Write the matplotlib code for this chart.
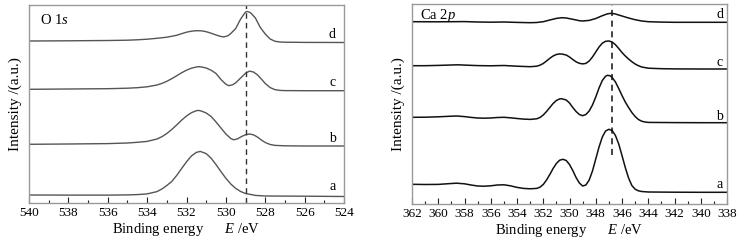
import matplotlib
matplotlib.use("Agg")
import matplotlib.pyplot as plt
from matplotlib.ticker import MultipleLocator

plt.rcParams['font.family'] = ['Liberation Serif', 'DejaVu Serif']
plt.rcParams['mathtext.fontset'] = 'custom'
plt.rcParams['mathtext.rm'] = 'Liberation Serif'
plt.rcParams['mathtext.it'] = 'Liberation Serif:italic'

# ---- O 1s spectra (binding energy eV, intensity a.u. incl. vertical offset)
o1s_a_x = [540, 538, 536, 535, 534.5, 534, 533.5, 533.25, 533, 532.75, 532.5, 532.25, 532, 531.75,
           531.5, 531.3, 531, 530.75, 530.5, 530.25, 530, 529.75, 529.5, 529.25, 529, 528.5, 528, 526, 524]
o1s_a_y = [8.0, 7.9, 7.9, 8.1, 8.4, 9.1, 11.4, 14.0, 17.5, 21.5, 27.5, 34.4, 41.2, 47.0,
           50.6, 51.6, 49.4, 44.8, 38.4, 31.4, 24.7, 19.0, 14.6, 11.5, 9.5, 7.6, 7.0, 6.8, 6.5]

o1s_b_x = [540, 538, 536, 535, 534.5, 534, 533.5, 533.25, 533, 532.75, 532.5, 532.25, 532, 531.75, 531.5,
           531.4, 531.25, 531, 530.75, 530.5, 530.25, 530, 529.75, 529.6, 529.4, 529.2, 529, 528.8, 528.6,
           528.4, 528.2, 528, 527.75, 527.5, 527, 526, 524]
o1s_b_y = [58.7, 59.0, 59.4, 60.0, 60.7, 61.6, 64.0, 66.3, 69.5, 73.5, 78.0, 82.8, 87.0, 90.3, 92.3,
           92.6, 92.0, 90.0, 86.5, 81.0, 75.0, 69.0, 64.5, 63.2, 64.2, 66.5, 68.3, 69.0, 68.2,
           66.0, 63.0, 60.5, 58.5, 57.6, 57.2, 57.0, 57.0]

o1s_c_x = [540, 538, 536, 535, 534.5, 534, 533.5, 533.25, 533, 532.75, 532.5, 532.25, 532, 531.75, 531.5,
           531.4, 531.25, 531, 530.75, 530.5, 530.25, 530, 529.85, 529.65, 529.5, 529.25, 529, 528.8, 528.6,
           528.4, 528.2, 528, 527.75, 527.5, 527.25, 527, 526, 524]
o1s_c_y = [113.7, 114.0, 114.3, 114.8, 115.3, 116.2, 118.0, 119.6, 121.7, 124.3, 127.2, 130.2, 132.8, 134.8, 136.0,
           136.3, 136.1, 135.0, 132.8, 129.5, 123.5, 118.8, 117.3, 118.3, 120.2, 125.0, 129.8, 131.9, 131.0,
           128.2, 124.0, 119.5, 115.4, 113.3, 112.6, 112.4, 112.3, 112.3]

o1s_d_x = [540, 538, 536, 535, 534.5, 534, 533.5, 533, 532.5, 532.25, 532, 531.75, 531.5, 531.25, 531,
           530.75, 530.5, 530.25, 530.1, 529.9, 529.75, 529.5, 529.25, 529.0, 528.9, 528.75, 528.5, 528.25,
           528, 527.75, 527.5, 527.25, 527, 526, 524]
o1s_d_y = [162.0, 162.2, 162.5, 162.8, 163.2, 163.8, 164.7, 165.8, 167.7, 169.3, 170.8, 171.8, 172.3, 172.2, 171.3,
           169.8, 168.0, 166.5, 166.1, 167.2, 169.5, 174.5, 184.0, 191.0, 191.5, 190.3, 185.0, 175.5,
           169.0, 164.0, 161.7, 161.0, 160.8, 160.6, 160.5]

# ---- Ca 2p spectra
ca_a_x = [362, 361, 360, 359, 358.6, 358, 357.5, 357, 356.5, 356, 355.5, 355, 354.5, 354, 353.5, 353, 352.5,
          352.25, 352, 351.75, 351.5, 351.25, 351, 350.75, 350.5, 350.25, 350, 349.75, 349.5, 349.25, 349,
          348.75, 348.5, 348.25, 348, 347.75, 347.5, 347.25, 347, 346.75, 346.5, 346.25, 346, 345.75, 345.5,
          345.25, 345, 344.75, 344.5, 344, 342, 340, 338]
ca_a_y = [19.7, 19.5, 19.6, 20.5, 20.8, 20.2, 19.0, 18.0, 17.8, 18.2, 19.0, 19.2, 18.2, 16.6, 15.6, 15.2, 15.6,
          16.8, 19.5, 24.0, 29.5, 35.5, 40.5, 43.8, 44.7, 43.5, 39.5, 33.5, 26.5, 21.0, 18.0,
          19.0, 24.0, 33.0, 45.0, 57.0, 67.0, 73.0, 74.7, 73.5, 68.5, 60.0, 48.5, 36.5, 26.0,
          18.5, 14.8, 13.2, 12.5, 12.0, 11.8, 11.7, 11.7]

ca_b_x = [362, 361, 360, 359, 358.6, 358, 357.5, 357, 356.5, 356, 355.5, 355, 354.5, 354, 353.5, 353, 352.5,
          352.25, 352, 351.75, 351.5, 351.25, 351, 350.75, 350.6, 350.25, 350, 349.75, 349.5, 349.25, 349,
          348.75, 348.5, 348.25, 348, 347.75, 347.5, 347.25, 347.1, 346.9, 346.75, 346.5, 346.25, 346,
          345.75, 345.5, 345.25, 345, 344.75, 344.5, 344.25, 344, 342, 340, 338]
ca_b_y = [86.7, 86.8, 87.2, 87.8, 88.0, 87.4, 86.6, 86.0, 85.8, 86.0, 86.5, 86.7, 86.2, 85.5, 84.9, 84.6, 85.2,
          86.5, 89.0, 92.5, 96.5, 100.5, 103.5, 105.1, 105.3, 104.0, 101.0, 96.5, 92.5, 89.5, 88.3,
          89.5, 93.0, 99.0, 107.0, 116.0, 123.5, 127.8, 128.7, 128.2, 126.5, 122.0, 115.5, 108.5,
          102.0, 96.5, 91.5, 87.5, 84.5, 82.8, 82.0, 81.6, 81.4, 81.3, 81.3]

ca_c_x = [362, 361, 360, 359, 358.5, 358, 357, 356, 355, 354, 353, 352.5, 352.25, 352, 351.75, 351.5, 351.25,
          351, 350.75, 350.6, 350.25, 350, 349.75, 349.5, 349.25, 349, 348.75, 348.5, 348.25, 348, 347.75,
          347.5, 347.25, 347, 346.75, 346.5, 346.25, 346, 345.75, 345.5, 345.25, 345, 344.75, 344.5, 344,
          343, 342, 340, 338]
ca_c_y = [138.3, 138.3, 138.6, 139.0, 139.2, 138.9, 138.4, 138.2, 138.5, 137.8, 137.3, 137.8, 138.8, 140.5, 143.0, 145.7, 148.0,
          149.5, 150.1, 150.0, 149.0, 147.0, 144.5, 142.2, 140.7, 140.1, 140.6, 143.0, 147.0, 152.0, 157.0,
          160.8, 162.7, 163.0, 162.0, 159.3, 155.5, 151.5, 148.0, 145.0, 142.3, 140.0, 138.3, 137.0, 135.8,
          135.3, 135.1, 135.0, 135.0]

ca_d_x = [362, 360, 358, 357, 356, 355, 354, 353, 352.5, 352, 351.5, 351, 350.6, 350.25, 349.75, 349.25, 349,
          348.5, 348, 347.5, 347.1, 346.8, 346.5, 346, 345.5, 345, 344.5, 344, 343, 342, 340, 338]
ca_d_y = [182.3, 182.2, 182.4, 182.0, 181.8, 182.0, 181.6, 181.3, 181.5, 182.3, 184.0, 185.6, 186.3, 186.0, 184.7, 183.3, 183.0,
          183.6, 185.5, 188.3, 190.2, 190.7, 190.0, 188.0, 186.0, 184.3, 183.0, 182.3, 181.9, 181.7, 181.7, 181.7]

sample_labels = ['a', 'b', 'c', 'd']
o1s_label_y = [16, 65, 120, 168]
ca_label_y = [19, 87, 142, 190]
o1s_ref = 529.0
ca_ref = 346.8

fig = plt.figure(figsize=(7.39, 2.41), dpi=100)
ax1 = fig.add_axes([29/739, 38/241, 315/739, 198/241])
ax2 = fig.add_axes([412/739, 37/241, 315/739, 200/241])


def style(ax, xmax, xmin, ymax):
    ax.set_xlim(xmax, xmin)
    ax.set_ylim(0, ymax)
    ax.set_yticks([])
    ax.xaxis.set_major_locator(MultipleLocator(2))
    ax.xaxis.set_minor_locator(MultipleLocator(1))
    ax.tick_params(axis='x', which='major', direction='in', length=4, width=0.8,
                   labelsize=9.5, pad=3, color='#222222')
    ax.tick_params(axis='x', which='minor', direction='in', length=2, width=0.8, color='#222222')
    for s in ax.spines.values():
        s.set_color('#999999')
        s.set_linewidth(1.0)
    ax.set_xlabel('Binding energy      $E$ /eV', fontsize=10.5, labelpad=1)
    ax.set_ylabel('Intensity /(a.u.)', fontsize=11, labelpad=5)


style(ax1, 540, 524, 198)
for xs, ys in [(o1s_a_x, o1s_a_y), (o1s_b_x, o1s_b_y), (o1s_c_x, o1s_c_y), (o1s_d_x, o1s_d_y)]:
    ax1.plot(xs, ys, color='#555555', lw=1.0)
ax1.axvline(o1s_ref, color='#333333', lw=1.0, ls=(0, (4, 3)))
for lab, y in zip(sample_labels, o1s_label_y):
    ax1.text(524.6, y, lab, fontsize=10, ha='center', va='center')
ax1.text(539.45, 183, 'O 1$s$', fontsize=10.5, ha='left', va='center')

style(ax2, 362, 338, 200)
for xs, ys in [(ca_a_x, ca_a_y), (ca_b_x, ca_b_y), (ca_c_x, ca_c_y), (ca_d_x, ca_d_y)]:
    ax2.plot(xs, ys, color='#111111', lw=1.1)
ax2.axvline(ca_ref, ymin=0.245, ymax=1.0, color='#111111', lw=1.1, ls=(0, (4, 3)))
for lab, y in zip(sample_labels, ca_label_y):
    ax2.text(338.55, y, lab, fontsize=10, ha='center', va='center')
ax2.text(361.4, 189, 'Ca 2$p$', fontsize=10.5, ha='left', va='center')

fig.savefig('out.png', dpi=100)
